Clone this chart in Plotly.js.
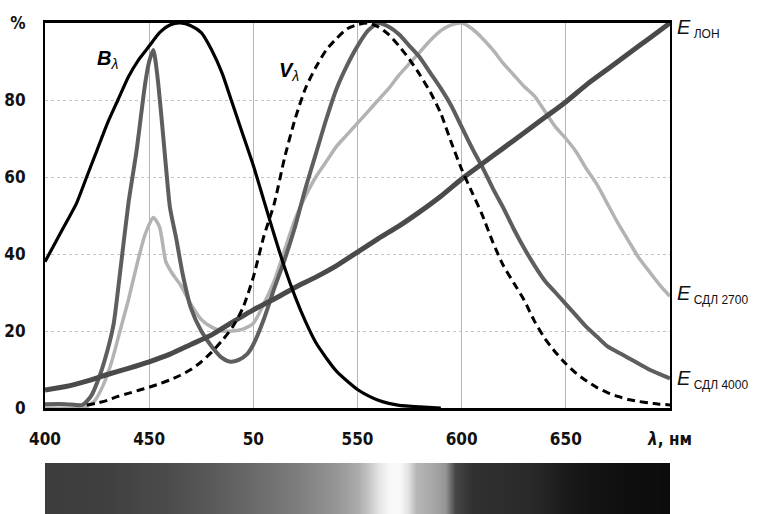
<!DOCTYPE html>
<html>
<head>
<meta charset="utf-8">
<script src="https://cdn.plot.ly/plotly-3.0.1.min.js"></script>
<style>html,body{margin:0;padding:0;background:#fff;}#chart{width:758px;height:514px;}</style>
</head>
<body>
<div id="chart"></div>
<script>
// Wavelength ticks
const xTickVals = [400, 450, 500, 550, 600, 650, 700];
const xTickText = ['400', '450', '50', '550', '600', '650', '<i>λ</i>, нм'];
const yTickVals = [0, 20, 40, 60, 80, 100];
const yTickText = ['0', '20', '40', '60', '80', '%'];

// B_lambda (black solid)
const bWl  = [400,405,410,415,420,425,430,435,440,445,450,455,460,465,470,475,480,485,490,495,500,505,510,515,520,525,530,535,540,545,550,555,560,565,570,580,590];
const bVal = [38,43,48,53,60,67,74,80,86,90.5,94,97.5,99.5,100,99.3,97.5,93,87,79,71,63,54,45,36.5,29,22.5,17,13,9.5,7,4.8,3.2,2,1.2,0.7,0.3,0];

// V_lambda (black dashed)
const vWl  = [420,425,430,435,440,445,450,455,460,465,470,475,480,485,490,495,500,505,510,515,520,525,530,535,540,545,550,555,560,565,570,575,580,585,590,595,600,605,610,615,620,625,630,635,640,645,650,655,660,665,670,675,680,685,690,695,700];
const vVal = [0.8,1.3,2,3,3.8,4.6,5.4,6.3,7.3,8.5,10,12,14.5,17.5,21,26,34,44.5,53,65,75,83,88.5,93,96,98.5,99.6,100,99,97,94,90.5,86.5,82,76.5,69,62,56,50,43,37,32.5,28,22.5,18,14.5,11.5,9,7,5.3,4,3,2.2,1.7,1.3,1,0.8];

// E SDL 4000 (dark grey)
const e4Wl  = [400,410,418,422,426,430,433,436,440,444,448,450,452,454,456,458,460,463,466,470,475,480,485,489,493,497,500,505,510,515,520,525,530,535,540,545,550,555,560,565,570,575,580,585,590,595,600,605,610,615,620,625,630,635,640,645,650,655,660,665,670,675,680,685,690,695,700];
const e4Val = [1,1,0.8,3,8,15,22,35,53,67,84,90,93,86,75,63,52,44,35,26,20,16,13,12,12.5,14,16.5,23,31,38.5,47,57,66,75,83,89,94,98,100,99,97,94,91,87,83,78.5,73,67.5,62.5,57,52,46.5,41.5,37,33,30,27,24,21,18.5,16,14.5,13,11.5,10,8.8,7.7];

// E SDL 2700 (light grey)
const e27Wl  = [400,418,420,424,428,432,436,440,444,448,452,455,458,461,465,470,475,480,485,490,495,500,505,510,515,520,525,530,535,540,545,550,555,560,565,570,575,580,585,590,595,600,605,610,615,620,625,630,635,640,645,650,655,660,665,670,675,680,685,690,695,700];
const e27Val = [0,0,0.3,2,6,12,20,28,37,45,49.5,47,38,35,32,27,23,21,20,20,20.5,22,27,33,41,49,55,60,64,68,71,74,77,80,83,86.5,89.5,92.5,95.5,98,99.5,100,98.5,96,93,89.5,86.5,83.5,81,77,73,70,66.5,62,58,53,48,43.5,39,35.5,32,29];

// E LON (incandescent, thick dark grey)
const eLWl  = [400,410,420,430,440,450,460,470,480,490,500,510,520,530,540,550,560,570,580,590,600,610,620,630,640,650,660,670,680,690,700];
const eLVal = [4.7,5.6,7,8.7,10.3,12,14,16.5,19,22.3,25.5,28.3,31.3,34,37,40.5,44,47.3,51,55,59.5,63.5,67.5,71.5,75.5,79.5,84,88,92,96,100];

// Spectrum strip (grey level 0..255)
const specWl   = [400,430,460,480,500,520,540,550,555,560,565,570,574,578,585,592,597,605,620,635,645,660,680,700];
const specGray = [60,64,76,90,106,124,150,172,196,226,248,250,226,182,170,150,70,48,45,40,30,20,14,12];

const tickFont = {family: 'Liberation Sans Narrow, DejaVu Sans Condensed, Arial Narrow, sans-serif', size: 17, color: '#111', weight: 'bold'};
const labFont = {family: 'Liberation Sans, Arial, sans-serif', size: 20, color: '#111'};
const sub = s => '<sub><span style="font-size:12px"> ' + s + '</span></sub>';

const traces = [
  {x: e27Wl, y: e27Val, type: 'scatter', mode: 'lines', line: {color: '#b3b3b3', width: 3.5, shape: 'spline', smoothing: 0.6}, hoverinfo: 'skip'},
  {x: e4Wl, y: e4Val, type: 'scatter', mode: 'lines', line: {color: '#5e5e5e', width: 4, shape: 'spline', smoothing: 0.6}, hoverinfo: 'skip'},
  {x: eLWl, y: eLVal, type: 'scatter', mode: 'lines', line: {color: '#4a4a4a', width: 5, shape: 'spline', smoothing: 0.6}, hoverinfo: 'skip'},
  {x: vWl, y: vVal, type: 'scatter', mode: 'lines', line: {color: '#000', width: 3, dash: '8px,5px', shape: 'spline', smoothing: 0.6}, hoverinfo: 'skip'},
  {x: bWl, y: bVal, type: 'scatter', mode: 'lines', line: {color: '#000', width: 3.2, shape: 'spline', smoothing: 0.6}, hoverinfo: 'skip'},
  {x: specWl, y: [0], z: [specGray], type: 'heatmap', xaxis: 'x2', yaxis: 'y2', zmin: 0, zmax: 255,
   colorscale: [[0, '#000000'], [1, '#ffffff']], showscale: false, zsmooth: 'best', hoverinfo: 'skip'}
];

const H = 514, T = 23;
const plotH = H - T;
const layout = {
  width: 758, height: 514,
  margin: {l: 45, r: 88, t: T, b: 0, pad: 0},
  paper_bgcolor: '#fff', plot_bgcolor: '#fff',
  showlegend: false,
  xaxis: {
    range: [400, 700], tickvals: xTickVals, ticktext: xTickText, tickfont: tickFont,
    showgrid: true, gridcolor: '#b5b5b5', gridwidth: 1,
    showline: true, linecolor: '#000', linewidth: 3, mirror: true,
    ticks: 'outside', ticklen: 14, tickcolor: 'rgba(0,0,0,0)', zeroline: false,
    anchor: 'y', automargin: false, fixedrange: true
  },
  yaxis: {
    domain: [(H - 408) / plotH, 1], range: [0, 100], tickvals: yTickVals, ticktext: yTickText, tickfont: tickFont,
    showgrid: true, gridcolor: '#c4c4c4', gridwidth: 1, griddash: 'dot',
    showline: true, linecolor: '#000', linewidth: 2, mirror: true,
    ticks: 'outside', ticklen: 14, tickcolor: 'rgba(0,0,0,0)', zeroline: false,
    automargin: false, fixedrange: true
  },
  xaxis2: {range: [400, 700], anchor: 'y2', visible: false, showgrid: false, zeroline: false, fixedrange: true},
  yaxis2: {domain: [0, (H - 463) / plotH], range: [-0.5, 0.5], visible: false, showgrid: false, zeroline: false, fixedrange: true},
  annotations: [
    {x: 430, y: 90.5, xref: 'x', yref: 'y', text: '<b><i>B</i></b><sub><i>λ</i></sub>', showarrow: false,
     font: {family: 'Liberation Sans, Arial, sans-serif', size: 20, color: '#000'}},
    {x: 517, y: 87.5, xref: 'x', yref: 'y', text: '<b><i>V</i></b><sub><i>λ</i></sub>', showarrow: false,
     font: {family: 'Liberation Sans, Arial, sans-serif', size: 20, color: '#000'}},
    {x: 700, y: 98.5, xref: 'x', yref: 'y', xanchor: 'left', xshift: 5, text: '<i>E</i>' + sub('ЛОН'), showarrow: false, font: labFont},
    {x: 700, y: 29.5, xref: 'x', yref: 'y', xanchor: 'left', xshift: 5, text: '<i>E</i>' + sub('СДЛ 2700'), showarrow: false, font: labFont},
    {x: 700, y: 7.5, xref: 'x', yref: 'y', xanchor: 'left', xshift: 5, text: '<i>E</i>' + sub('СДЛ 4000'), showarrow: false, font: labFont}
  ]
};

Plotly.newPlot('chart', traces, layout, {displayModeBar: false, staticPlot: true});
</script>
</body>
</html>
